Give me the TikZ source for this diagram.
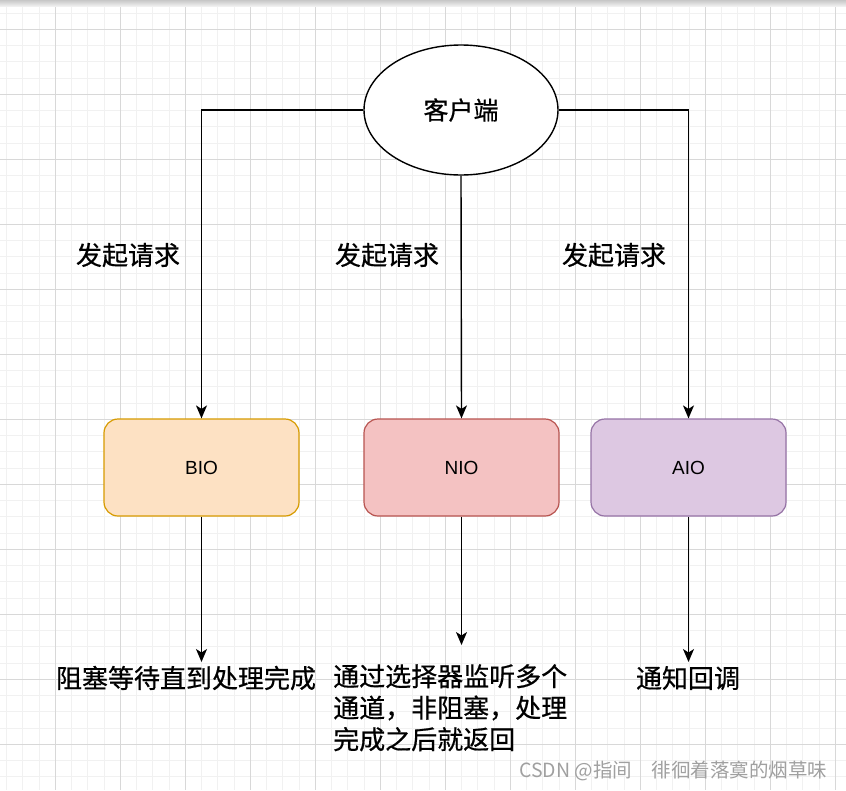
\documentclass[tikz,border=0pt]{standalone}
\usepackage{fontspec}
\setmainfont{Liberation Sans}
\newfontfamily\cjk{Noto Sans CJK SC}
\newfontfamily\cjkb[FakeBold=0.6]{Noto Sans CJK SC}
\usetikzlibrary{arrows.meta,shapes.geometric}
\definecolor{minorgrid}{HTML}{F1F1F1}
\definecolor{majorgrid}{HTML}{D8D8D8}
\definecolor{biofill}{HTML}{FDE1C3}
\definecolor{biodraw}{HTML}{D79B00}
\definecolor{niofill}{HTML}{F4C2C2}
\definecolor{niodraw}{HTML}{B85450}
\definecolor{aiofill}{HTML}{DDC8E2}
\definecolor{aiodraw}{HTML}{9673A6}
\definecolor{wmark}{HTML}{A0A0A0}
\tikzset{
  conn/.style={line width=1.4pt, draw=black, -{Stealth[length=13pt,width=11pt,inset=3.5pt]}},
  iobox/.style={rounded corners=14pt, line width=1.2pt, minimum width=195pt, minimum height=97pt, inner sep=0pt, font=\fontsize{19}{22}\selectfont},
  lbl/.style={font=\cjkb\fontsize{26}{31.5}\selectfont, inner sep=0pt},
}
\begin{document}
\begin{tikzpicture}[x=1pt,y=-1pt]
\useasboundingbox (0,0) rectangle (846,790);
\fill[white] (0,0) rectangle (846,790);
% grid
\foreach \i in {0,...,51} {\draw[minorgrid, line width=0.9pt] ({6.55+16.25*\i},0) -- ({6.55+16.25*\i},790);}
\foreach \i in {0,...,47} {\draw[minorgrid, line width=0.9pt] (0,{13.05+16.25*\i}) -- (846,{13.05+16.25*\i});}
\foreach \i in {0,...,12} {\draw[majorgrid, line width=0.9pt] ({55.3+65*\i},0) -- ({55.3+65*\i},790);}
\foreach \i in {0,...,11} {\draw[majorgrid, line width=0.9pt] (0,{29.3+65*\i}) -- (846,{29.3+65*\i});}
\shade[top color=black!22, bottom color=black!6] (0,0) rectangle (846,6);
% nodes
\node[ellipse, draw, line width=1.4pt, fill=white, minimum width=194pt, minimum height=130pt, inner sep=0pt, font=\cjkb\fontsize{25}{30}\selectfont] (client) at (461,110) {客户端};
\node[iobox, draw=biodraw, fill=biofill] (bio) at (201.5,467.5) {BIO};
\node[iobox, draw=niodraw, fill=niofill] (nio) at (461.5,467.5) {NIO};
\node[iobox, draw=aiodraw, fill=aiofill] (aio) at (688.5,467.5) {AIO};
\node[lbl] (req1) at (128,255) {发起请求};
\node[lbl] (req2) at (387,255) {发起请求};
\node[lbl] (req3) at (614,255) {发起请求};
\node[lbl] (res1) at (186,678) {阻塞等待直到处理完成};
\node[lbl, align=left, anchor=north west] (res2) at (333,664) {通过选择器监听多个\\通道，非阻塞，处理\\完成之后就返回};
\node[lbl] (res3) at (688,678) {通知回调};
\coordinate (e1) at (201.5,662);
\coordinate (e2) at (461.5,645);
\coordinate (e3) at (688.5,662);
% connectors
\draw[conn] (client.west) -| (bio.north);
\draw[conn] (client.south) -- (nio.north);
\draw[conn] (client.east) -| (aio.north);
\draw[conn] (bio.south) -- (e1);
\draw[conn] (nio.south) -- (e2);
\draw[conn] (aio.south) -- (e3);
% watermark
\node[anchor=west, inner sep=0pt, text=wmark, font=\cjk\fontsize{19.5}{22}\selectfont] (wm) at (519,771) {CSDN @指间　徘徊着落寞的烟草味};
\end{tikzpicture}
\end{document}
